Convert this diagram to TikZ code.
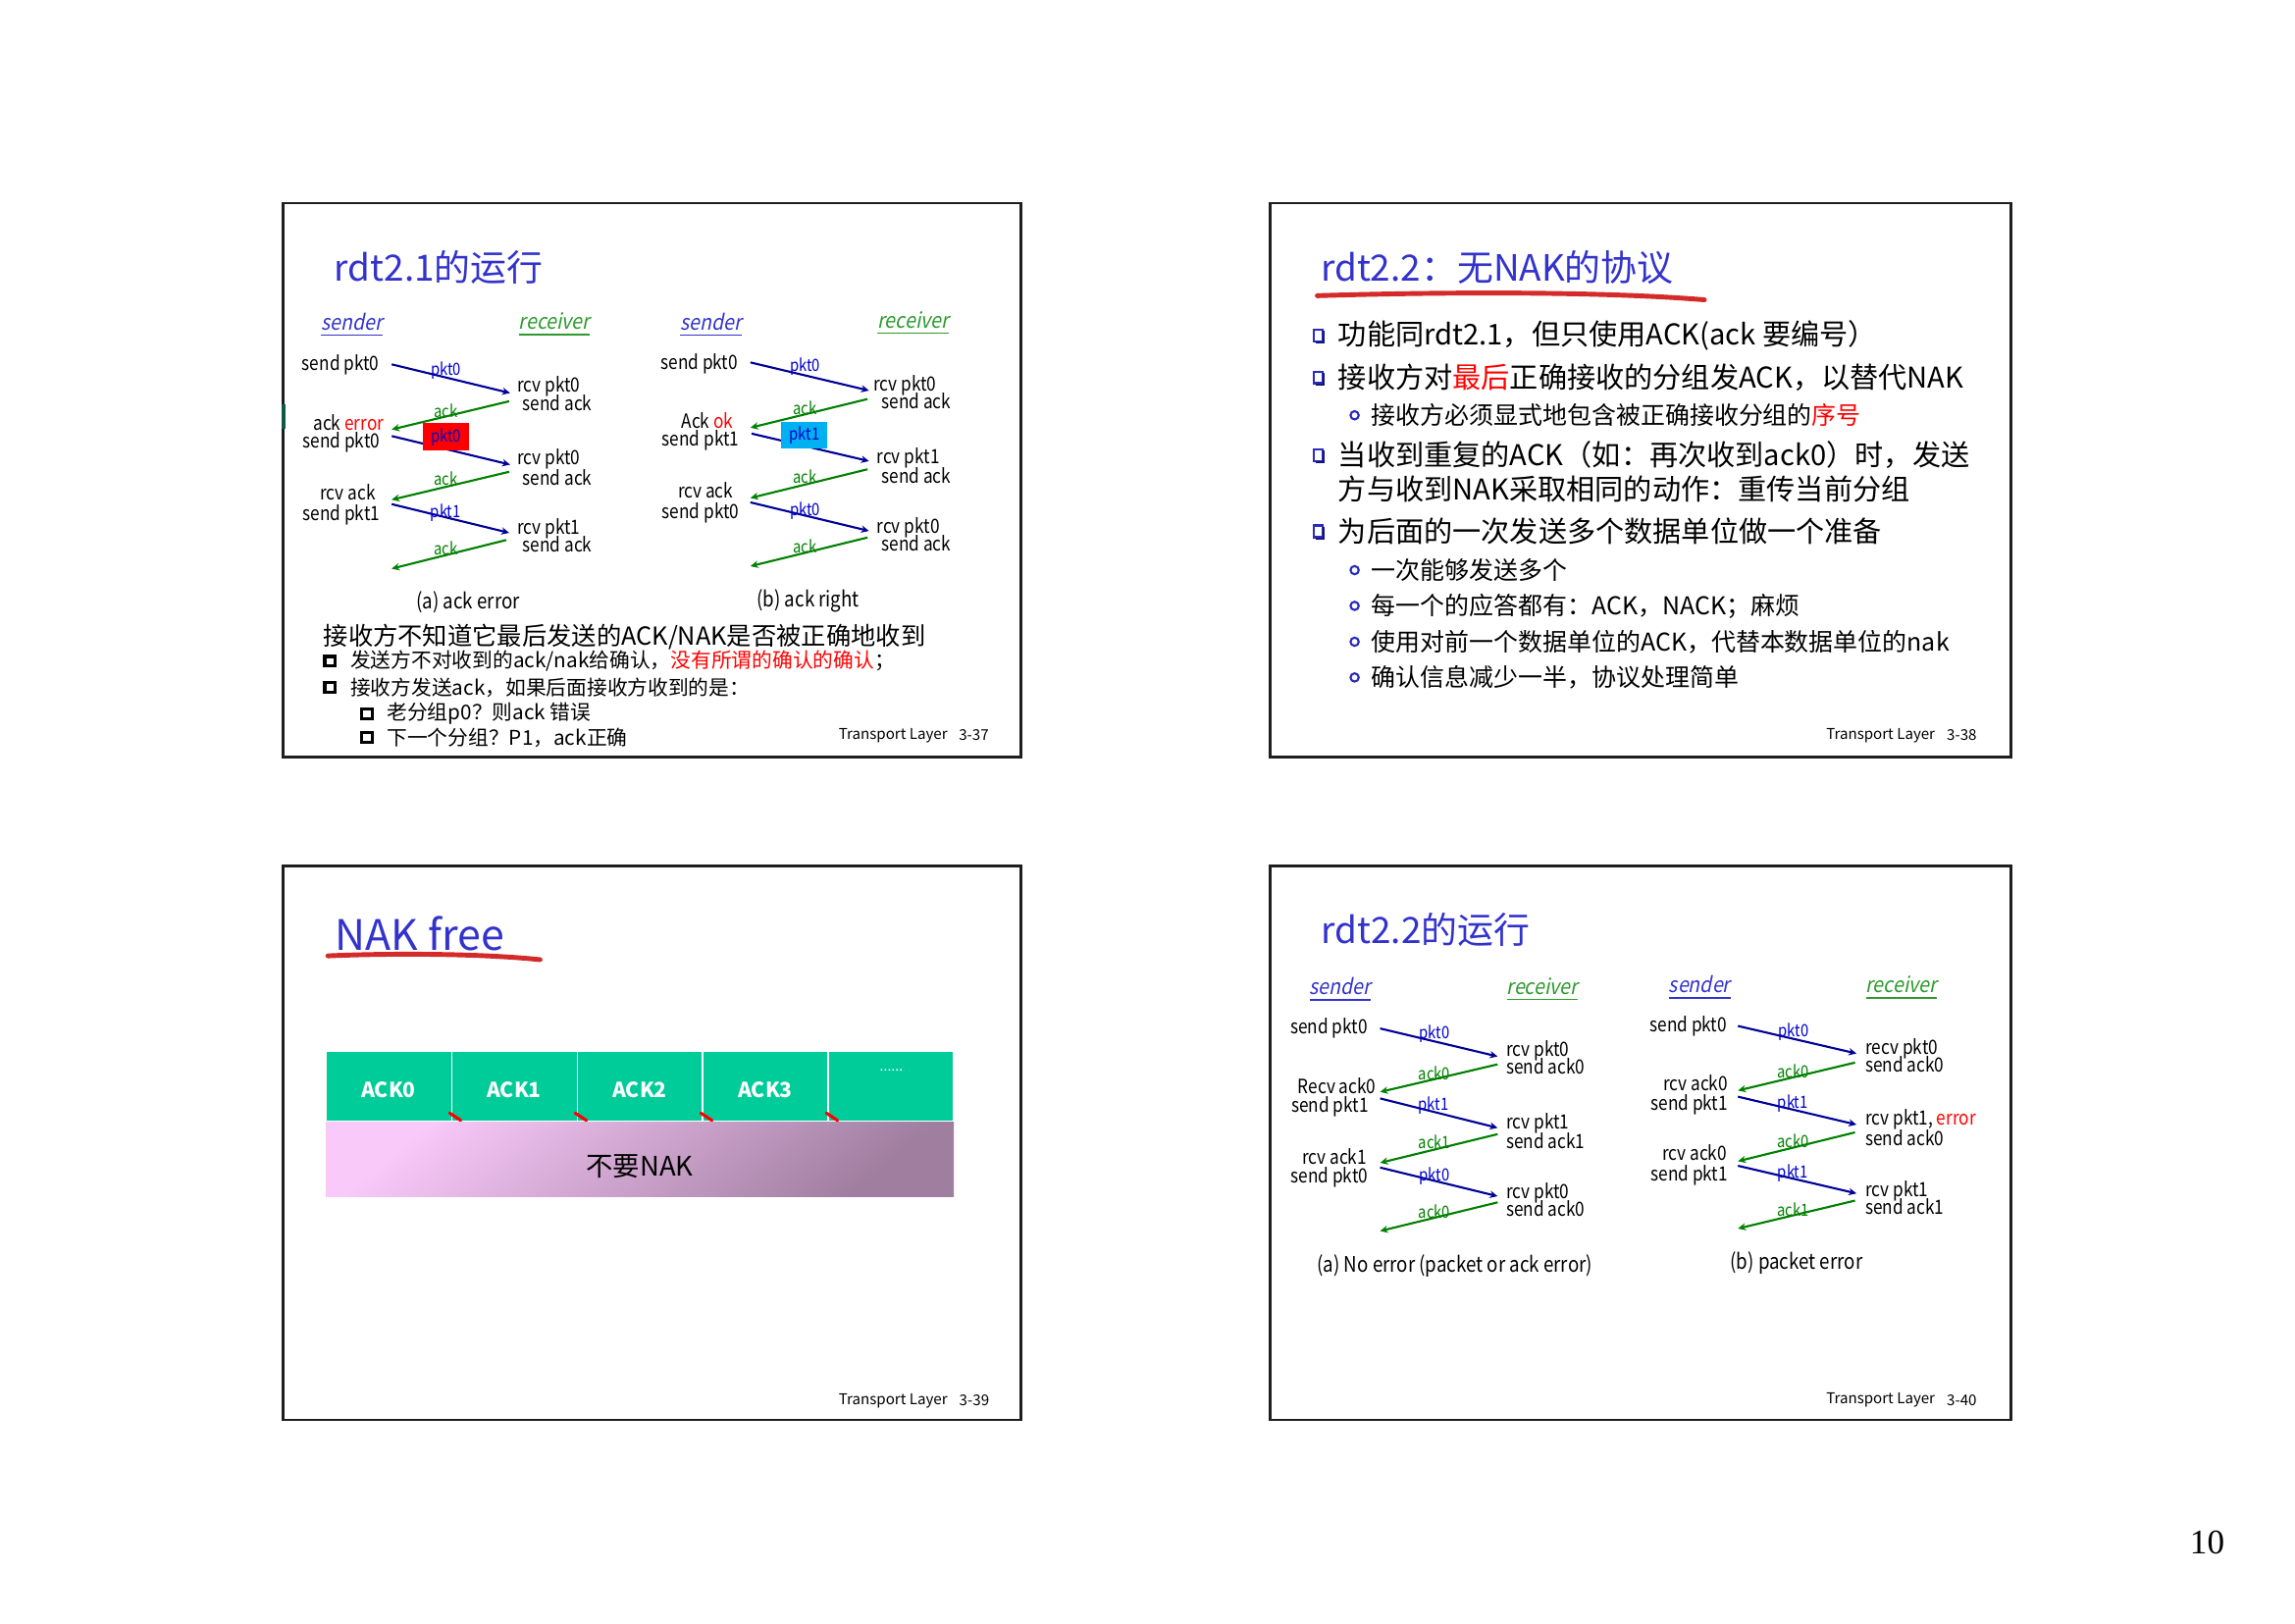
\documentclass[tikz,border=0pt]{standalone}
\usepackage{fontspec}
\setmainfont{Noto Sans CJK SC}
\newfontfamily\slfont[FakeSlant=0.2,FakeStretch=0.9]{Noto Sans CJK SC}
\newfontfamily\dfont[FakeStretch=0.86]{Noto Sans CJK SC}
\newfontfamily\pgfont{Liberation Serif}
\usetikzlibrary{arrows.meta}
\newcommand\sz[1]{\fontsize{#1}{#1}\selectfont}
\definecolor{ttlblue}{HTML}{3333CC}
\definecolor{pktblue}{HTML}{000099}
\definecolor{lblblue}{HTML}{0000CC}
\definecolor{ackgreen}{HTML}{008000}
\definecolor{rcvgreen}{HTML}{2E9A2E}
\definecolor{errred}{HTML}{FF0000}
\definecolor{handred}{HTML}{D42A2A}
\definecolor{framegray}{HTML}{1E1E1E}
\definecolor{edgemark}{HTML}{0E5A44}
\definecolor{bulblue}{HTML}{2A2ABF}
\definecolor{bulshadow}{HTML}{15157A}
\definecolor{cellgreen}{HTML}{00CC99}
\definecolor{pinklight}{HTML}{F9C9F9}
\definecolor{pinkmid}{HTML}{DCAEDC}
\definecolor{pinkdark}{HTML}{A07EA0}
\definecolor{pktcyan}{HTML}{00B0F0}
\tikzset{
  slideframe/.style={draw=framegray, line width=0.8pt},
  ttl/.style={anchor=west, inner sep=0pt, text=ttlblue, font=\sz{10.5}},
  dt/.style={inner sep=0pt, font=\dfont\sz{5.7}, yshift=0.1mm},
  dtw/.style={dt, anchor=mid west},
  dte/.style={dt, anchor=mid east},
  plbl/.style={inner sep=0pt, anchor=mid, font=\dfont\sz{4.9}, text=lblblue},
  albl/.style={inner sep=0pt, anchor=mid, font=\dfont\sz{4.9}, text=ackgreen},
  pa/.style={draw=pktblue, line width=0.6pt, -{Stealth[length=0.8mm,width=0.75mm]}},
  aa/.style={draw=ackgreen, line width=0.6pt, -{Stealth[length=0.8mm,width=0.75mm]}},
  sndr/.style={inner sep=0pt, font=\slfont\sz{6.2}, text=ttlblue},
  rcvr/.style={inner sep=0pt, font=\slfont\sz{6.2}, text=rcvgreen},
  capt/.style={inner sep=0pt, anchor=mid, font=\dfont\sz{6.2}},
  foot/.style={inner sep=0pt, font=\sz{4.3}},
  sqbul/.style={draw=black, line width=0.9pt},
  bxbul/.style={draw=bulblue, line width=0.6pt, fill=white},
  cbul/.style={draw=bulblue, line width=0.6pt},
  lone/.style={anchor=west, inner sep=0pt, font=\sz{8.3}},
  ltwo/.style={anchor=west, inner sep=0pt, font=\sz{7.1}},
  hand/.style={draw=handred, line width=1.4pt, line cap=round},
  cell/.style={fill=cellgreen, draw=white, line width=0.3pt},
  celltxt/.style={inner sep=0pt, text=white, font=\bfseries\sz{6}},
  slash/.style={draw=red, line width=0.9pt, line cap=round}
}
% arrow helpers: name, start x, start y, end x, end y
\newcommand\pktconn[5]{\coordinate (#1s) at (#2,#3); \coordinate (#1e) at (#4,#5); \draw[pa] (#1s) -- (#1e);}
\newcommand\ackconn[5]{\coordinate (#1s) at (#2,#3); \coordinate (#1e) at (#4,#5); \draw[aa] (#1s) -- (#1e);}
% hollow square bullet with a dark drop edge
\newcommand\boxbullet[2]{%
  \draw[bxbul] (#1-2.9,#2-4) rectangle (#1+2.9,#2+4);
  \draw[bulshadow, line width=0.55pt] (#1+3.7,#2-3.2) -- (#1+3.7,#2+4.8) -- (#1-2.1,#2+4.8);}
\begin{document}
\begin{tikzpicture}[x=0.14917mm, y=-0.14917mm]
\useasboundingbox (0,0) rectangle (1568,1109);
\fill[white] (0,0) rectangle (1568,1109);

% ================= slide 3-37 =================
\draw[slideframe] (193.5,138.7) rectangle (697.7,517);
\draw[line width=1.1pt, draw=edgemark] (193.5,276) -- (193.5,293);
\node[ttl] (t1) at (228,182.6) {rdt2.1的运行};

% (a) ack error
\node[sndr] (a1snd) at (240.4,222) {\underline{sender}};
\node[rcvr] (a1rcv) at (378.8,222) {\underline{receiver}};
\pktconn{a1p1}{267.6}{248.9}{348.5}{268.5}
\ackconn{a1k1}{347.9}{274.1}{267.6}{293.4}
\pktconn{a1p2}{267.7}{297.9}{348.5}{317.4}
\ackconn{a1k2}{347.9}{322.3}{267.6}{341.4}
\pktconn{a1p3}{267.6}{344.4}{347.9}{364}
\ackconn{a1k3}{345.9}{368.9}{267.6}{388.5}
\node[plbl] (a1l1) at (304.8,250) {pkt0};
\node[albl] (a1l2) at (304.8,279) {ack};
\node[plbl, fill=errred, minimum width=4.75mm, minimum height=2.8mm, anchor=center] (a1l3) at (304.8,298.5) {pkt0};
\node[albl] (a1l4) at (304.8,324.8) {ack};
\node[plbl] (a1l5) at (304.5,347.3) {pkt1};
\node[albl] (a1l6) at (304.8,373) {ack};
\node[dte] (a1s1) at (259.5,247.6) {send pkt0};
\node[dte] (a1s2) at (262.7,288.3) {ack \textcolor{errred}{error}};
\node[dte] (a1s3) at (260,300.5) {send pkt0};
\node[dte] (a1s4) at (257,335.8) {rcv ack};
\node[dte] (a1s5) at (260,350) {send pkt1};
\node[dtw] (a1r1) at (353,262.3) {rcv pkt0};
\node[dtw] (a1r2) at (356.6,275) {send ack};
\node[dtw] (a1r3) at (353,312) {rcv pkt0};
\node[dtw] (a1r4) at (356.6,325.5) {send ack};
\node[dtw] (a1r5) at (353,359.6) {rcv pkt1};
\node[dtw] (a1r6) at (356.6,371.6) {send ack};
\node[capt] (a1c) at (319.8,409.8) {(a) ack error};

% (b) ack right
\node[sndr] (b1snd) at (485.8,222) {\underline{sender}};
\node[rcvr] (b1rcv) at (623.9,221) {\underline{receiver}};
\pktconn{b1p1}{512.7}{247.6}{593.7}{266.8}
\ackconn{b1k1}{592.7}{272.6}{512.7}{292.2}
\pktconn{b1p2}{513.5}{296.2}{593.7}{315}
\ackconn{b1k2}{592.7}{320.6}{512.7}{340.2}
\pktconn{b1p3}{512.7}{343.2}{593.7}{362.7}
\ackconn{b1k3}{592.7}{367.2}{512.7}{386.8}
\node[plbl] (b1l1) at (550,247) {pkt0};
\node[albl] (b1l2) at (550,276.5) {ack};
\node[plbl, fill=pktcyan, minimum width=4.7mm, minimum height=2.75mm, anchor=center] (b1l3) at (549.6,297.2) {pkt1};
\node[albl] (b1l4) at (550,323.6) {ack};
\node[plbl] (b1l5) at (550,346.1) {pkt0};
\node[albl] (b1l6) at (550,371.4) {ack};
\node[dte] (b1s1) at (504.6,246.4) {send pkt0};
\node[dte] (b1s2) at (501.4,286.8) {Ack \textcolor{errred}{ok}};
\node[dte] (b1s3) at (505.5,299.2) {send pkt1};
\node[dte] (b1s4) at (501.4,334.8) {rcv ack};
\node[dte] (b1s5) at (505.5,348.6) {send pkt0};
\node[dtw] (b1r1) at (596.3,261.4) {rcv pkt0};
\node[dtw] (b1r2) at (601.8,273.6) {send ack};
\node[dtw] (b1r3) at (598.5,311.2) {rcv pkt1};
\node[dtw] (b1r4) at (601.8,324.2) {send ack};
\node[dtw] (b1r5) at (598.5,358.6) {rcv pkt0};
\node[dtw] (b1r6) at (601.8,370.8) {send ack};
\node[capt] (b1c) at (552.2,408.1) {(b) ack right};

% notes
\node[anchor=west, inner sep=0pt, font=\sz{7.2}] (n0) at (220.6,435) {接收方不知道它最后发送的ACK/NAK是否被正确地收到};
\draw[sqbul] (221.9,448.5) rectangle (229.1,455.1);
\node[anchor=west, inner sep=0pt, font=\sz{5.9}] (n1) at (239,451.8) {发送方不对收到的ack/nak给确认，\textcolor{errred}{没有所谓的确认的确认}；};
\draw[sqbul] (221.9,466.4) rectangle (229.1,473);
\node[anchor=west, inner sep=0pt, font=\sz{5.9}] (n2) at (239,469.7) {接收方发送ack，如果后面接收方收到的是：};
\draw[sqbul] (247.1,484.2) rectangle (254.3,490.8);
\node[anchor=west, inner sep=0pt, font=\sz{5.9}] (n3) at (264,487.5) {老分组p0？则ack 错误};
\draw[sqbul] (247.1,500.7) rectangle (254.3,507.3);
\node[anchor=west, inner sep=0pt, font=\sz{5.9}] (n4) at (264,504) {下一个分组？P1，ack正确};
\node[foot, anchor=west] (f1a) at (572.6,502.5) {Transport Layer};
\node[foot, anchor=east] (f1b) at (676,502.5) {3-37};

% ================= slide 3-38 =================
\draw[slideframe] (868,138.7) rectangle (1374,517);
\node[ttl] (t2) at (902,182.7) {rdt2.2：无NAK的协议};
\draw[hand] (900,202) .. controls (1000,199) and (1100,199.5) .. (1164.5,204.8);
\boxbullet{900.8}{229}
\boxbullet{900.8}{257.8}
\boxbullet{900.8}{311}
\boxbullet{900.8}{363}
\node[lone] (m1) at (913.8,229) {功能同rdt2.1，但只使用ACK(ack 要编号）};
\node[lone] (m2) at (913.8,257.8) {接收方对\textcolor{errred}{最后}正确接收的分组发ACK，以替代NAK};
\node[lone] (m4) at (913.8,311) {当收到重复的ACK（如：再次收到ack0）时，发送};
\node[lone] (m5) at (913.8,334.4) {方与收到NAK采取相同的动作：重传当前分组};
\node[lone] (m6) at (913.8,363) {为后面的一次发送多个数据单位做一个准备};
\foreach \yy in {283.7,389.5,413.9,438.4,462.8}{
  \draw[cbul] (925.5,\yy) circle[radius=0.42mm];
}
\node[ltwo] (m3) at (936.5,283.7) {接收方必须显式地包含被正确接收分组的\textcolor{errred}{序号}};
\node[ltwo] (m7) at (936.5,389.5) {一次能够发送多个};
\node[ltwo] (m8) at (936.5,413.9) {每一个的应答都有：ACK，NACK；麻烦};
\node[ltwo] (m9) at (936.5,438.4) {使用对前一个数据单位的ACK，代替本数据单位的nak};
\node[ltwo] (m10) at (936.5,462.8) {确认信息减少一半，协议处理简单};
\node[foot, anchor=west] (f2a) at (1247.3,502.5) {Transport Layer};
\node[foot, anchor=east] (f2b) at (1351,502.5) {3-38};

% ================= slide 3-39 =================
\draw[slideframe] (193.5,591.5) rectangle (697.7,970);
\node[ttl, font=\sz{12.2}] (t3) at (228.7,637.7) {NAK free};
\draw[hand] (224,653) .. controls (270,651) and (330,651.5) .. (369,655.6);
\shade[top color=pinklight, middle color=pinkmid, bottom color=pinkdark, shading angle=40] (222.6,766) rectangle (651.6,817.5);
\node[cell, minimum width=12.8mm, minimum height=7.08mm] (c0) at (265.5,742.25) {};
\node[cell, minimum width=12.8mm, minimum height=7.08mm] (c1) at (351.3,742.25) {};
\node[cell, minimum width=12.8mm, minimum height=7.08mm] (c2) at (437.1,742.25) {};
\node[cell, minimum width=12.8mm, minimum height=7.08mm] (c3) at (522.9,742.25) {};
\node[cell, minimum width=12.8mm, minimum height=7.08mm] (c4) at (608.7,742.25) {};
\node[celltxt] (c0t) at (265.5,744.6) {ACK0};
\node[celltxt] (c1t) at (351.3,744.6) {ACK1};
\node[celltxt] (c2t) at (437.1,744.6) {ACK2};
\node[celltxt] (c3t) at (522.9,744.6) {ACK3};
\node[celltxt, font=\sz{4}] (c4t) at (609,731) {......};
\foreach \xx in {308.4,394.2,480,565.8}{
  \draw[slash] (\xx-1.2,760.4) -- (\xx+6.4,765.4);
}
\node[inner sep=0pt, font=\sz{7.8}] (nn) at (437,796.6) {不要NAK};
\node[foot, anchor=west] (f3a) at (572.6,957) {Transport Layer};
\node[foot, anchor=east] (f3b) at (676.3,957) {3-39};

% ================= slide 3-40 =================
\draw[slideframe] (868,591.5) rectangle (1374,970);
\node[ttl] (t4) at (902.3,635.3) {rdt2.2的运行};

% (a) no error
\node[sndr] (a4snd) at (915.8,676.2) {\underline{sender}};
\node[rcvr] (a4rcv) at (1053.8,676) {\underline{receiver}};
\pktconn{a4p1}{942.9}{702.6}{1023.2}{721.7}
\ackconn{a4k1}{1023.2}{727.1}{942.9}{746}
\pktconn{a4p2}{942.9}{750.4}{1023.2}{770.5}
\ackconn{a4k2}{1023.2}{774.8}{942.9}{794.4}
\pktconn{a4p3}{942.9}{797.6}{1023.2}{817.2}
\ackconn{a4k3}{1023.2}{821.4}{942.9}{841}
\node[plbl] (a4l1) at (980.1,703.4) {pkt0};
\node[albl] (a4l2) at (980.1,731.3) {ack0};
\node[plbl] (a4l3) at (979.5,752) {pkt1};
\node[albl] (a4l4) at (980.1,778.5) {ack1};
\node[plbl] (a4l5) at (980.1,800.6) {pkt0};
\node[albl] (a4l6) at (980.1,825.6) {ack0};
\node[dte] (a4s1) at (934.8,700.2) {send pkt0};
\node[dte] (a4s2) at (940.6,741.4) {Recv ack0};
\node[dte] (a4s3) at (935.4,754.2) {send pkt1};
\node[dte] (a4s4) at (934.2,789.8) {rcv ack1};
\node[dte] (a4s5) at (935,802.6) {send pkt0};
\node[dtw] (a4r1) at (1028.7,715.6) {rcv pkt0};
\node[dtw] (a4r2) at (1028.7,727.8) {send ack0};
\node[dtw] (a4r3) at (1028.7,765.4) {rcv pkt1};
\node[dtw] (a4r4) at (1028.7,779) {send ack1};
\node[dtw] (a4r5) at (1028.7,812.8) {rcv pkt0};
\node[dtw] (a4r6) at (1028.7,825) {send ack0};
\node[capt] (a4c) at (994,863) {(a) No error (packet or ack error)};

% (b) packet error
\node[sndr] (b4snd) at (1161.2,675) {\underline{sender}};
\node[rcvr] (b4rcv) at (1299.1,675) {\underline{receiver}};
\pktconn{b4p1}{1187.4}{700.9}{1268.4}{719.7}
\ackconn{b4k1}{1267.4}{725.9}{1187.4}{745}
\pktconn{b4p2}{1187.4}{749.2}{1268.4}{768.3}
\ackconn{b4k2}{1267.4}{773.6}{1187.4}{793.3}
\pktconn{b4p3}{1187.4}{796.4}{1268.4}{815.3}
\ackconn{b4k3}{1267.4}{820.2}{1187.4}{839.3}
\node[plbl] (b4l1) at (1225.3,702.1) {pkt0};
\node[albl] (b4l2) at (1225,730) {ack0};
\node[plbl] (b4l3) at (1225,750.8) {pkt1};
\node[albl] (b4l4) at (1225,777.3) {ack0};
\node[plbl] (b4l5) at (1225,798.6) {pkt1};
\node[albl] (b4l6) at (1225,824.4) {ack1};
\node[dte] (b4s1) at (1180.3,699) {send pkt0};
\node[dte] (b4s2) at (1181,739.6) {rcv ack0};
\node[dte] (b4s3) at (1181,752.5) {send pkt1};
\node[dte] (b4s4) at (1180.3,787.3) {rcv ack0};
\node[dte] (b4s5) at (1181,801.2) {send pkt1};
\node[dtw] (b4r1) at (1274.2,714.3) {recv pkt0};
\node[dtw] (b4r2) at (1274,726.6) {send ack0};
\node[dtw] (b4r3) at (1274,762.6) {rcv pkt1, \textcolor{errred}{error}};
\node[dtw] (b4r4) at (1274,776.8) {send ack0};
\node[dtw] (b4r5) at (1274,811.8) {rcv pkt1};
\node[dtw] (b4r6) at (1274,824.1) {send ack1};
\node[capt] (b4c) at (1227.4,860.6) {(b) packet error};
\node[foot, anchor=west] (f4a) at (1247.3,956.6) {Transport Layer};
\node[foot, anchor=east] (f4b) at (1351,956.6) {3-40};

% page number
\node[inner sep=0pt, font=\pgfont\sz{10}] (pg) at (1508,1054) {10};
\end{tikzpicture}
\end{document}
